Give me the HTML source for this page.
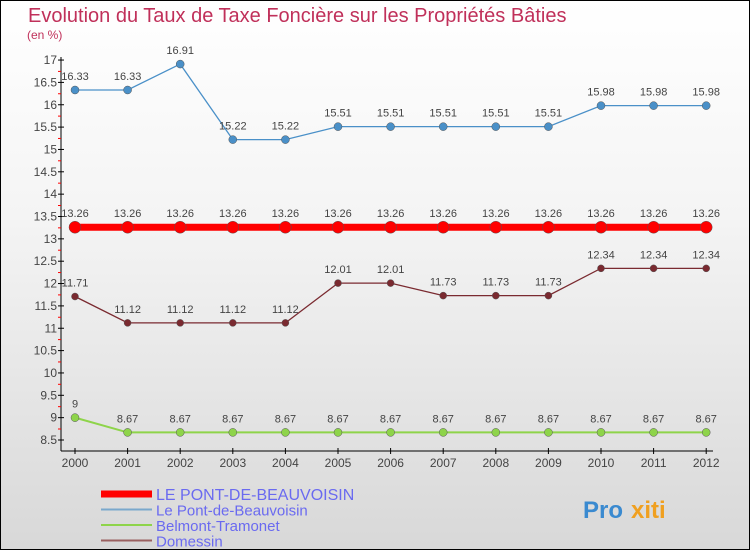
<!DOCTYPE html>
<html><head><meta charset="utf-8"><style>
body{margin:0}
#c{position:relative;width:748px;height:548px;border:1px solid #000;background:linear-gradient(#fff 0%,#f4f4f4 40%,#d8d8d8 100%);font-family:"Liberation Sans",sans-serif;overflow:hidden}
.t{position:absolute;left:27px;top:4px;font-size:20px;color:#c0305a}
.u{position:absolute;left:26px;top:27px;font-size:12px;color:#c0305a}
</style></head><body>
<div id="c">
<div class="t">Evolution du Taux de Taxe Foncière sur les Propriétés Bâties</div>
<div class="u">(en %)</div>
<svg id="s" width="748" height="548" style="position:absolute;left:0;top:0"></svg>
</div>
<script>
const years=[2000,2001,2002,2003,2004,2005,2006,2007,2008,2009,2010,2011,2012];
const yTicks=[8.5,9,9.5,10,10.5,11,11.5,12,12.5,13,13.5,14,14.5,15,15.5,16,16.5,17];
const commune=[13.26,13.26,13.26,13.26,13.26,13.26,13.26,13.26,13.26,13.26,13.26,13.26,13.26];
const pont=[16.33,16.33,16.91,15.22,15.22,15.51,15.51,15.51,15.51,15.51,15.98,15.98,15.98];
const belmont=[9,8.67,8.67,8.67,8.67,8.67,8.67,8.67,8.67,8.67,8.67,8.67,8.67];
const domessin=[11.71,11.12,11.12,11.12,11.12,12.01,12.01,11.73,11.73,11.73,12.34,12.34,12.34];
const NS="http://www.w3.org/2000/svg",s=document.getElementById('s');
const X=i=>74+i*52.6, Y=v=>439-(v-8.5)*44.7;
function mk(t,a,p){const e=document.createElementNS(NS,t);for(const k in a)e.setAttribute(k,a[k]);(p||s).appendChild(e);return e;}
const ax=mk('g',{});


mk('line',{x1:60,y1:56,x2:60,y2:450,stroke:'#000'},ax);
mk('line',{x1:60,y1:450,x2:712,y2:450,stroke:'#000'},ax);
yTicks.forEach((v,i)=>{const y=Y(v);mk('line',{x1:57,y1:y,x2:63,y2:y,stroke:'#000'},ax);
 if(i<yTicks.length-1)mk('line',{x1:57,y1:y-11,x2:60,y2:y-11,stroke:'red'},ax);
 const t=mk('text',{x:56,y:y+4,'text-anchor':'end','font-size':12,fill:'#444'},ax);t.textContent=v;
 });
years.forEach((yr,i)=>{const x=X(i);mk('line',{x1:x,y1:447,x2:x,y2:453,stroke:'#000'},ax);
 const t=mk('text',{x:x,y:466,'text-anchor':'middle','font-size':12,fill:'#444'},ax);t.textContent=yr;
 });
function series(d,col,w,r,name,fmt){const g=mk('g',{});
 
 mk('polyline',{points:d.map((v,i)=>X(i)+','+Y(v)).join(' '),fill:'none',stroke:col,'stroke-width':w},g);
 d.forEach((v,i)=>{const c=mk('circle',{cx:X(i),cy:Y(v),r:r,fill:col,stroke:'#555','stroke-width':0.5},g);
  
  const t=mk('text',{x:X(i),y:Y(v)-10,'text-anchor':'middle','font-size':11,fill:'#444'},g);t.textContent=fmt(v);
  });}
const f2=v=>Number.isInteger(v)?String(v):v.toFixed(2);
series(pont,'#4a90c8',1.3,4,'series-le-pont-de-beauvoisin',f2);
series(domessin,'#7a2a30',1.3,3.5,'series-domessin',f2);
series(belmont,'#8ed44a',2,4,'series-belmont-tramonet',f2);
series(commune,'#ff0000',7,6,'series-le-pont-de-beauvoisin-commune',f2);
const L=[['LE PONT-DE-BEAUVOISIN','#ff0000',7],['Le Pont-de-Beauvoisin','#7aa8cc',2],['Belmont-Tramonet','#8ed44a',2],['Domessin','#9a6060',2]];
L.forEach((l,i)=>{const g=mk('g',{});const y=493+i*15.5;
 
 mk('line',{x1:100,y1:y,x2:151,y2:y,stroke:l[1],'stroke-width':l[2]},g);
 const t=mk('text',{x:155,y:y+6,'font-size':i==0?16:15,fill:'#6a6af0'},g);t.textContent=l[0];});
const b=mk('text',{x:582,y:517,'font-size':24,'font-weight':'bold',fill:'#3a8ad0'});b.textContent='Pro';

const b2=mk('text',{x:630,y:517,'font-size':24,'font-weight':'bold',fill:'#f0a020'});b2.textContent='xiti';

</script>
</body></html>
